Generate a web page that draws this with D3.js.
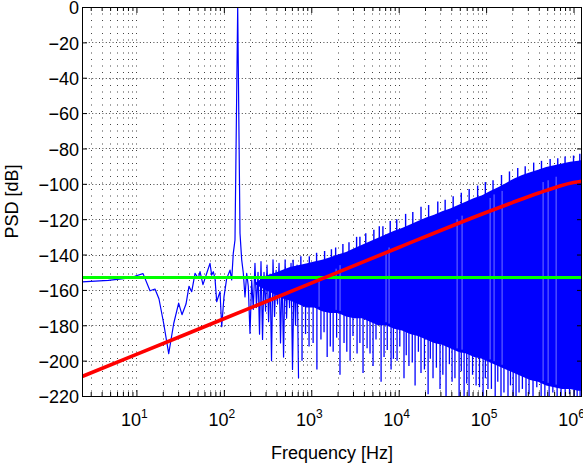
<!DOCTYPE html>
<html>
<head>
<meta charset="utf-8">
<script src="https://cdn.jsdelivr.net/npm/d3@7"></script>
<style>
  body { margin: 0; background: #fff; }
  svg { display: block; font-family: "Liberation Sans", Arial, Helvetica, sans-serif; }
</style>
</head>
<body>
<svg id="chart" width="583" height="464"></svg>
<script>
// spectrum, low frequency part (single line, read point by point)
const lineFreq = [2.384, 4.77, 7.15, 9.54, 11.9, 14.3, 16.3, 18.1, 20.5, 23.4,
  26.7, 30.4, 33.2, 36.9, 39.9, 42.9, 46.8, 51.0, 53.4, 57.7,
  60.9, 63.7, 69.4, 72.6, 75.7, 79.2, 82.8, 90.4, 94.5, 100.4,
  107.8, 117.6, 122.9, 128.2, 134.1, 144, 153, 160, 167, 174.5,
  182.5, 190.4, 199.1, 208.3, 217.2,
  227, 236, 246, 256, 266, 277, 288, 300, 312, 325,
  338, 351, 365, 380, 396, 411, 428, 445, 463, 482,
  502, 522, 542, 564, 587, 610, 636, 661, 688, 715]
const linePsd = [-155.5, -154.6, -153.6, -152.3, -150.8, -160.5, -159.5, -165, -179, -196,
  -179, -167.5, -174, -168, -158, -161, -150.6, -153.5, -149.7, -157,
  -153.5, -150.6, -145, -151.6, -149.7, -153.5, -166.7, -161, -180.8, -163.8,
  -153.5, -148.8, -154.4, -139.3, -131.8, 0, -128, -143, -150.6, -164,
  -150.6, -158, -184.6, -154.4, -171,
  -145, -170, -150, -185, -144, -188, -150, -172, -146, -178,
  -151, -200, -143, -175, -149, -168, -145, -190, -150, -198,
  -143, -176, -149, -170, -145, -205, -150, -180, -146, -210]

// spectrum, dense part: upper and lower edge of the solid band
const bandFreq = [230, 300, 400, 480, 571, 706, 871, 1080, 1330, 1640,
  2020, 2500, 3090, 3810, 4700, 5810, 7170, 8860, 10900, 13500,
  16600, 20600, 25400, 31400, 38800, 47800, 59100, 72800, 90000, 111000,
  137000, 169000, 209000, 258000, 319000, 393000, 486000, 599000, 740000, 915000,
  1128000, 1250000]
const bandTop = [-156, -152, -150, -148.5, -147, -146, -145, -144, -143, -141.5,
  -140, -138.5, -136.5, -134.5, -132.5, -130.5, -128.5, -126.5, -125, -123,
  -121, -119, -117.5, -115.5, -114, -112, -110, -108, -106.5, -104,
  -102, -99.5, -97, -95, -93.5, -92, -90.5, -89.5, -88.5, -87.5,
  -87, -86.5]
const bandBottom = [-157, -160, -163, -165, -166, -168, -170, -170, -172, -173,
  -173, -175, -176, -176, -178, -180, -180, -182, -183, -185,
  -186, -188, -190, -191, -193, -195, -196, -198, -199, -201,
  -203, -205, -207, -209, -211, -212, -214, -215, -216, -216,
  -217, -217]

// short upward spikes on the top edge of the band
const peakFreq = [620, 760, 950, 1150, 1420, 1700, 1900, 2300, 2700, 3300,
  3600, 4200, 5200, 6000, 6600, 8000, 9500, 12000, 14500, 18000,
  22000, 28000, 34000, 42000, 52000, 64000, 80000, 98000, 120000, 150000,
  185000, 230000, 280000, 350000, 430000, 540000, 660000, 800000, 1000000, 1180000]
const peakPsd = [-143, -141, -141, -139, -138, -137, -136, -134, -133, -130,
  -130, -128, -126, -124, -124, -121, -120, -117, -116, -113,
  -112, -110, -109, -107, -105, -103, -101, -99, -98, -95,
  -93, -91, -90, -88, -87, -86, -85.5, -84.5, -84, -83]

// downward spikes below the band
const spikeFreq = [784, 943, 1160, 1290, 1520, 1780, 2130, 2370, 2780, 3340,
  3910, 4350, 5090, 6290, 6800, 8180, 9580, 11500, 13100, 15400,
  18000, 21700, 24700, 29700, 34800, 40800, 49100, 56000, 63800, 76800,
  92300, 105000, 127000, 148000, 178000, 204000, 238000, 286000, 344000, 426000,
  526000, 649000, 802000, 1016000, 1189000,
  860, 1050, 1400, 1650, 1950, 2550, 3000, 3600, 4700, 5500,
  7400, 8700, 10300, 12200, 14300, 16800, 19700, 23000, 27000, 32000,
  38000, 44000, 52000, 60000, 70000, 84000, 98000, 115000, 136000, 160000,
  190000, 220000, 260000, 310000, 380000, 470000, 580000, 720000, 900000, 1100000]
const spikePsd = [-200, -192, -205, -188, -198, -195, -208, -190, -200, -196,
  -207, -193, -203, -212, -198, -205, -200, -210, -203, -214,
  -207, -219, -210, -216, -222, -212, -220, -222, -222, -214,
  -222, -216, -222, -220, -222, -222, -218, -222, -222, -222,
  -222, -222, -222, -222, -222,
  -185, -190, -184, -192, -187, -195, -186, -190, -196, -188,
  -194, -199, -192, -197, -201, -195, -205, -199, -204, -208,
  -202, -210, -206, -213, -208, -215, -210, -216, -212, -218,
  -214, -222, -216, -219, -215, -222, -218, -222, -219, -222]

// light streaks inside the band
const streakFreq = [1228, 1923, 2134, 7170, 7762, 46600, 53100, 111200, 123400, 152400, 448700, 512000, 632400]
const streakTop = [-152, -148, -146, -138, -136, -120, -118, -108, -106, -104, -99, -98, -96]

// noise models
const floorFreq = [2.384, 1250000]
const floorPsd = [-153, -153]
const slopeFreq = [2.384, 10, 100, 1000, 10000, 100000, 200000, 400000, 700000, 1000000, 1250000]
const slopePsd = [-209, -196.5, -176.3, -156.2, -136, -116.2, -110.6, -105.2, -101.2, -99.3, -98.5]

// axes
const yTicks = [0, -20, -40, -60, -80, -100, -120, -140, -160, -180, -200, -220]
const xDecades = [1, 2, 3, 4, 5, 6]

const margin = { top: 7, right: 1, bottom: 68, left: 82 }
const W = 583
const H = 464
const svg = d3.select('#chart')
const iw = W - margin.left - margin.right
const ih = H - margin.top - margin.bottom

const x = d3.scaleLog().domain([2.384, 1250000]).range([0, iw])
const y = d3.scaleLinear().domain([-220, 0]).range([ih, 0])

const g = svg.append('g').attr('transform', `translate(${margin.left}, ${margin.top})`)

svg.append('defs').append('clipPath').attr('id', 'plot-clip')
  .append('rect').attr('x', 0).attr('y', 0).attr('width', iw).attr('height', ih)

// tick positions (decades + minors)
const majorX = [0, 1, 2, 3, 4, 5, 6].map(e => Math.pow(10, e)).filter(f => f >= x.domain()[0] && f <= x.domain()[1])
const minorX = []
for (let e = 0; e <= 6; e++) {
  for (let m = 2; m <= 9; m++) {
    const f = m * Math.pow(10, e)
    if (f >= x.domain()[0] && f <= x.domain()[1]) minorX.push(f)
  }
}

// grid (dotted, under data)
const grid = g.append('g').attr('class', 'grid')
grid.selectAll('line.gx')
  .data(majorX.concat(minorX))
  .enter()
  .append('line')
  .attr('class', 'gx')
  .attr('x1', d => Math.round(x(d)) + 0.5)
  .attr('x2', d => Math.round(x(d)) + 0.5)
  .attr('y1', 0)
  .attr('y2', ih)
  .attr('stroke', '#444')
  .attr('stroke-width', 1)
  .attr('stroke-dasharray', '1,5.5')
grid.selectAll('line.gy')
  .data(yTicks)
  .enter()
  .append('line')
  .attr('class', 'gy')
  .attr('x1', 0)
  .attr('x2', iw)
  .attr('y1', d => Math.round(y(d)) + 0.5)
  .attr('y2', d => Math.round(y(d)) + 0.5)
  .attr('stroke', '#444')
  .attr('stroke-width', 1)
  .attr('stroke-dasharray', '1,2.4')

const plot = g.append('g').attr('clip-path', 'url(#plot-clip)')

// dense band
const band = bandFreq.map((f, i) => ({ f, top: bandTop[i], bottom: bandBottom[i] }))
plot.append('path')
  .datum(band)
  .attr('fill', '#0000ff')
  .attr('d', d3.area().x(d => x(d.f)).y0(d => y(d.bottom)).y1(d => y(d.top)))

const bottomAt = d3.scaleLog().domain(bandFreq).range(bandBottom).clamp(true)
const topAt = d3.scaleLog().domain(bandFreq).range(bandTop).clamp(true)

plot.append('g').selectAll('line')
  .data(peakFreq.map((f, i) => ({ f, p: peakPsd[i] })))
  .enter()
  .append('line')
  .attr('x1', d => x(d.f))
  .attr('x2', d => x(d.f))
  .attr('y1', d => y(topAt(d.f)) + 2)
  .attr('y2', d => y(d.p))
  .attr('stroke', '#0000ff')
  .attr('stroke-width', 1.4)

plot.append('g').selectAll('line')
  .data(spikeFreq.map((f, i) => ({ f, p: spikePsd[i] })))
  .enter()
  .append('line')
  .attr('x1', d => x(d.f))
  .attr('x2', d => x(d.f))
  .attr('y1', d => y(bottomAt(d.f)) - 2)
  .attr('y2', d => y(d.p))
  .attr('stroke', '#0000ff')
  .attr('stroke-width', 1.3)

plot.append('g').selectAll('line')
  .data(streakFreq.map((f, i) => ({ f, p: streakTop[i] })))
  .enter()
  .append('line')
  .attr('x1', d => x(d.f))
  .attr('x2', d => x(d.f))
  .attr('y1', d => y(d.p))
  .attr('y2', d => y(bottomAt(d.f)) - 3)
  .attr('stroke', '#fff')
  .attr('stroke-opacity', 0.45)
  .attr('stroke-width', 1)

// low frequency line
plot.append('path')
  .datum(lineFreq.map((f, i) => [f, linePsd[i]]))
  .attr('fill', 'none')
  .attr('stroke', '#0000ff')
  .attr('stroke-width', 1.2)
  .attr('stroke-linejoin', 'round')
  .attr('d', d3.line().x(d => x(d[0])).y(d => y(d[1])))

// noise floor (green) and rising noise (red)
plot.append('path')
  .datum(floorFreq.map((f, i) => [f, floorPsd[i]]))
  .attr('fill', 'none')
  .attr('stroke', '#00ff00')
  .attr('stroke-width', 3)
  .attr('d', d3.line().x(d => x(d[0])).y(d => y(d[1])))

plot.append('path')
  .datum(slopeFreq.map((f, i) => [f, slopePsd[i]]))
  .attr('fill', 'none')
  .attr('stroke', '#ff0000')
  .attr('stroke-width', 3.6)
  .attr('d', d3.line().curve(d3.curveMonotoneX).x(d => x(d[0])).y(d => y(d[1])))

// axes: ticks point inward on all four sides
const styleAxis = sel => {
  sel.select('.domain').remove()
  sel.selectAll('line').attr('stroke', '#000')
  sel.attr('font-family', null).attr('font-size', null)
}

g.append('g')
  .attr('transform', `translate(0, ${ih})`)
  .call(d3.axisBottom(x).tickValues(majorX).tickSize(-6).tickFormat(''))
  .call(styleAxis)
g.append('g')
  .attr('transform', `translate(0, ${ih})`)
  .call(d3.axisBottom(x).tickValues(minorX).tickSize(-4).tickFormat(''))
  .call(styleAxis)
g.append('g')
  .call(d3.axisTop(x).tickValues(majorX).tickSize(-6).tickFormat(''))
  .call(styleAxis)
g.append('g')
  .call(d3.axisTop(x).tickValues(minorX).tickSize(-4).tickFormat(''))
  .call(styleAxis)
g.append('g')
  .attr('transform', `translate(${iw}, 0)`)
  .call(d3.axisRight(y).tickValues(yTicks).tickSize(-5).tickFormat(''))
  .call(styleAxis)

const yAxis = g.append('g')
  .call(d3.axisLeft(y).tickValues(yTicks).tickSize(-5).tickPadding(3).tickFormat(d3.format('d')))
  .call(styleAxis)
yAxis.selectAll('text')
  .attr('font-size', 18)
  .attr('fill', '#000')
  .attr('dy', '0.38em')

// box
g.append('rect')
  .attr('x', 0.5)
  .attr('y', 0.5)
  .attr('width', iw - 1)
  .attr('height', ih)
  .attr('fill', 'none')
  .attr('stroke', '#000')
  .attr('stroke-width', 1)

// decade labels 10^n
const xLabels = g.append('g').selectAll('text')
  .data(xDecades)
  .enter()
  .append('text')
  .attr('x', d => x(Math.pow(10, d)) - 2)
  .attr('y', ih + 30)
  .attr('text-anchor', 'middle')
  .attr('font-size', 18)
  .attr('fill', '#000')
xLabels.append('tspan').text('10')
xLabels.append('tspan')
  .attr('dy', -8)
  .attr('font-size', 12)
  .text(d => d)

// axis titles
svg.append('text')
  .attr('x', margin.left + iw / 2)
  .attr('y', 459)
  .attr('text-anchor', 'middle')
  .attr('font-size', 18)
  .text('Frequency [Hz]')

svg.append('text')
  .attr('transform', `translate(18, ${margin.top + ih / 2}) rotate(-90)`)
  .attr('text-anchor', 'middle')
  .attr('font-size', 18)
  .text('PSD [dB]')
</script>
</body>
</html>
